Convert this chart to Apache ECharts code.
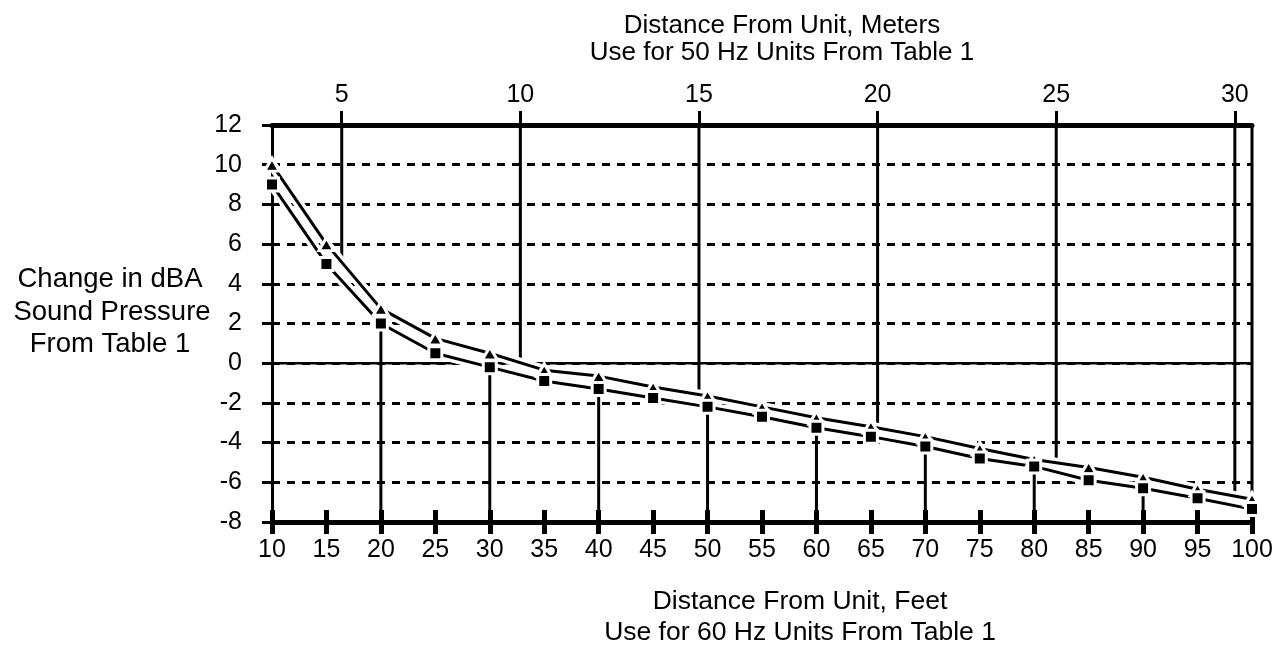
<!DOCTYPE html>
<html>
<head>
<meta charset="utf-8">
<title>Change in dBA vs distance</title>
<script src="https://cdn.jsdelivr.net/npm/echarts@6/dist/echarts.min.js"></script>
<style>
  html, body { margin: 0; padding: 0; background: #fff; }
  #chart { width: 1279px; height: 648px; }
</style>
</head>
<body>
<div id="chart"></div>
<script>
// distance in feet (bottom axis)
const feet = [10, 15, 20, 25, 30, 35, 40, 45, 50, 55, 60, 65, 70, 75, 80, 85, 90, 95, 100];
// upper curve (triangles)
const triangleDb = [10, 6, 2.75, 1.25, 0.5, -0.35, -0.65, -1.2, -1.65, -2.2, -2.75, -3.2, -3.7, -4.3, -4.85, -5.25, -5.75, -6.35, -6.85];
// lower curve (squares)
const squareDb = [9, 5, 2, 0.5, -0.2, -0.9, -1.3, -1.75, -2.2, -2.7, -3.25, -3.7, -4.2, -4.8, -5.2, -5.9, -6.3, -6.8, -7.35];
// meter ticks on the top axis
const meterTicks = [5, 10, 15, 20, 25, 30];
// feet positions that get a rule up from the bottom to the square curve
const feetRules = [20, 30, 40, 50, 60, 70, 80, 90];
const FT_PER_M = 3.2808;
const yMin = -8, yMax = 12, yStep = 2;

const topTitle = ['Distance From Unit, Meters', 'Use for 50 Hz Units From Table 1'];
const bottomTitle = ['Distance From Unit, Feet', 'Use for 60 Hz Units From Table 1'];
const yTitle = ['Change in dBA', 'Sound Pressure', 'From Table 1'];

const FONT = '"Liberation Sans", Arial, Helvetica, sans-serif';

// value of a curve at an arbitrary feet position (for where a rule meets the curve)
function curveAt(values, x) {
    for (let i = 0; i < feet.length - 1; i++) {
        if (x >= feet[i] && x <= feet[i + 1]) {
            const t = (x - feet[i]) / (feet[i + 1] - feet[i]);
            return values[i] + t * (values[i + 1] - values[i]);
        }
    }
    return values[values.length - 1];
}

const pairs = (vals) => feet.map((f, i) => [f, vals[i]]);

// rules: [x1, y1, x2, y2]
let rules = [];
feetRules.forEach(f => {
    rules.push([f, yMin, f, squareDb[feet.indexOf(f)]]);
});
meterTicks.forEach(m => {
    const f = m * FT_PER_M;
    rules.push([f, yMax, f, curveAt(triangleDb, f)]);
});
// right edge, top down to the upper curve
rules.push([100, yMax, 100, triangleDb[triangleDb.length - 1]]);

function ruleRenderer(width) {
    return function (params, api) {
        const p1 = api.coord([api.value(0), api.value(1)]);
        const p2 = api.coord([api.value(2), api.value(3)]);
        return {
            type: 'line',
            shape: { x1: p1[0], y1: p1[1], x2: p2[0], y2: p2[1] },
            style: { stroke: '#000', lineWidth: width }
        };
    };
}

function textEl(str, x, y, size) {
    return {
        type: 'text', x: x, y: y, silent: true,
        style: {
            text: str, fill: '#000', font: size + 'px ' + FONT,
            align: 'center', verticalAlign: 'middle',
            textAlign: 'center', textVerticalAlign: 'middle'
        }
    };
}

const myChart = echarts.init(document.getElementById('chart'), null, { renderer: 'canvas' });

const option = {
    animation: false,
    backgroundColor: '#fff',
    textStyle: { fontFamily: FONT },
    grid: { left: 272, right: 27, top: 125, bottom: 126, containLabel: false },
    xAxis: [
        {
            type: 'value', position: 'bottom', min: 10, max: 100, interval: 5,
            axisLine: { onZero: false, lineStyle: { color: '#000', width: 5 } },
            axisTick: { show: true, length: 12, lineStyle: { color: '#000', width: 5 } },
            axisLabel: { color: '#000', fontSize: 25, margin: 16, fontFamily: FONT, showMinLabel: true, showMaxLabel: true },
            splitLine: { show: false }
        },
        {
            type: 'value', position: 'top', min: 10 / FT_PER_M, max: 100 / FT_PER_M,
            axisLine: { onZero: false, lineStyle: { color: '#000', width: 5 } },
            axisTick: { show: true, length: 14, customValues: meterTicks, lineStyle: { color: '#000', width: 3 } },
            axisLabel: { color: '#000', fontSize: 25, margin: 17, fontFamily: FONT, customValues: meterTicks },
            splitLine: { show: false }
        },
        {
            // inner half of the bottom tick marks
            type: 'value', position: 'bottom', min: 10, max: 100, interval: 5,
            axisLine: { show: false, onZero: false },
            axisTick: { show: true, inside: true, length: 12, lineStyle: { color: '#000', width: 5 } },
            axisLabel: { show: false },
            splitLine: { show: false }
        }
    ],
    yAxis: {
        type: 'value', min: yMin, max: yMax, interval: yStep,
        axisLine: { show: true, onZero: false, lineStyle: { color: '#000', width: 3 } },
        axisTick: { show: true, length: 10, lineStyle: { color: '#000', width: 3 } },
        axisLabel: { color: '#000', fontSize: 25, margin: 30, fontFamily: FONT },
        splitLine: { show: true, lineStyle: { color: '#000', width: 3, type: [8, 7] } }
    },
    graphic: [
        textEl(topTitle[0], 782, 26, 26),
        textEl(topTitle[1], 782, 53, 26),
        textEl(bottomTitle[0], 800, 602, 26.5),
        textEl(bottomTitle[1], 800, 633, 26.5),
        textEl(yTitle[0], 110, 279, 27.5),
        textEl(yTitle[1], 112, 312, 27.5),
        textEl(yTitle[2], 110, 344, 27.5)
    ],
    series: [
        {
            type: 'custom', name: 'zero', z: 1, silent: true,
            renderItem: ruleRenderer(2.5),
            encode: { x: [0, 2], y: [1, 3] },
            data: [[10, 0, 100, 0]]
        },
        {
            type: 'custom', name: 'rules', z: 1, silent: true,
            renderItem: ruleRenderer(3),
            encode: { x: [0, 2], y: [1, 3] },
            data: rules
        },
        {
            type: 'line', name: 'haloTri', z: 3, silent: true, symbol: 'none',
            lineStyle: { color: '#fff', width: 10 },
            data: pairs(triangleDb)
        },
        {
            type: 'line', name: 'haloSq', z: 3, silent: true, symbol: 'none',
            lineStyle: { color: '#fff', width: 10 },
            data: pairs(squareDb)
        },
        {
            type: 'line', name: 'triangle', z: 4, silent: true,
            symbol: 'triangle', symbolSize: [15, 13],
            itemStyle: { color: '#000', borderColor: '#fff', borderWidth: 3 },
            lineStyle: { color: '#000', width: 3 },
            data: pairs(triangleDb)
        },
        {
            type: 'line', name: 'square', z: 4, silent: true,
            symbol: 'rect', symbolSize: 13,
            itemStyle: { color: '#000', borderColor: '#fff', borderWidth: 3 },
            lineStyle: { color: '#000', width: 3 },
            data: pairs(squareDb)
        }
    ]
};

myChart.setOption(option);
</script>
</body>
</html>
